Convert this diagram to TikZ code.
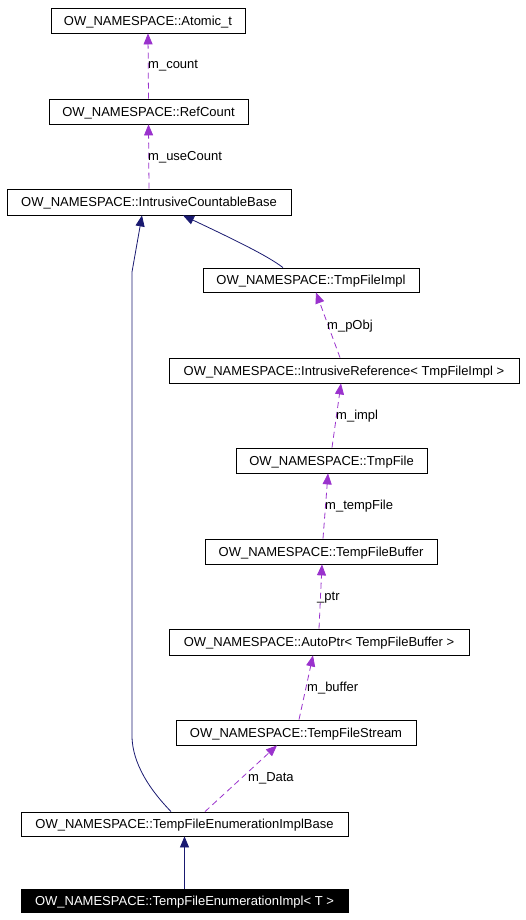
\documentclass[tikz,border=0pt]{standalone}
\usepackage{fontspec}
\setmainfont{Liberation Sans}
\usetikzlibrary{arrows.meta}
\definecolor{dep}{HTML}{9A32CD}
\definecolor{inh}{HTML}{191970}
\tikzset{
  cls/.style={draw=black, line width=0.8pt, rectangle, inner sep=0pt, anchor=center,
    text height=9.3pt, text depth=0pt,
    font=\fontsize{13}{15}\selectfont, text=black},
  clsmain/.style={cls, fill=black, text=white},
  lbl/.style={inner sep=0pt, anchor=west, text height=9.3pt, text depth=0pt,
    font=\fontsize{13}{15}\selectfont},
  depedge/.style={draw=dep, line width=0.8pt, dash pattern=on 6pt off 4pt,
    -{Triangle[length=11pt,width=9pt,fill=dep]}},
  inhedge/.style={draw=inh, line width=0.8pt,
    -{Triangle[length=11pt,width=9pt,fill=inh]}}
}
\begin{document}
\begin{tikzpicture}[x=1pt,y=-1pt]
\useasboundingbox (0,0) rectangle (525,920);

\node[cls, minimum width=194, minimum height=25] (atom) at (148,20.5) {OW\_NAMESPACE::Atomic\_t};
\node[cls, minimum width=199, minimum height=25] (ref) at (148.5,111.5) {OW\_NAMESPACE::RefCount};
\node[cls, minimum width=284, minimum height=26] (icb) at (149,202) {OW\_NAMESPACE::IntrusiveCountableBase};
\node[cls, minimum width=216, minimum height=24] (impl) at (311,280) {OW\_NAMESPACE::TmpFileImpl};
\node[cls, minimum width=350, minimum height=25] (iref) at (344,370.5) {OW\_NAMESPACE::IntrusiveReference< TmpFileImpl >};
\node[cls, minimum width=191, minimum height=25] (tmpf) at (331.5,460.5) {OW\_NAMESPACE::TmpFile};
\node[cls, minimum width=232, minimum height=25] (tfb) at (321,551.5) {OW\_NAMESPACE::TempFileBuffer};
\node[cls, minimum width=300, minimum height=26] (ap) at (319,642) {OW\_NAMESPACE::AutoPtr< TempFileBuffer >};
\node[cls, minimum width=240, minimum height=25] (tfs) at (296,732.5) {OW\_NAMESPACE::TempFileStream};
\node[cls, minimum width=327, minimum height=24] (eb) at (184.5,824) {OW\_NAMESPACE::TempFileEnumerationImplBase};
\node[clsmain, minimum width=327, minimum height=23] (enum) at (184.5,900.5) {OW\_NAMESPACE::TempFileEnumerationImpl< T >};

% dependency edges
\draw[depedge] (ref.north) -- (atom.south);
\draw[depedge] (icb.north) -- (ref.south);
\draw[depedge] ([xshift=-4pt]iref.north) -- ([xshift=5pt]impl.south);
\draw[depedge] ([xshift=0.5pt]tmpf.north) -- ([xshift=-3pt]iref.south);
\draw[depedge] ([xshift=2pt]tfb.north) -- ([xshift=-3.5pt]tmpf.south);
\draw[depedge] (ap.north) -- ([xshift=1pt]tfb.south);
\draw[depedge] ([xshift=3pt]tfs.north) -- ([xshift=-6pt]ap.south);
\draw[depedge] ([xshift=20.5pt]eb.north) -- ([xshift=-19pt]tfs.south);

% inheritance edges
\draw[inhedge] ([xshift=-28pt]impl.north) .. controls (268,256) and (235,240) .. ([xshift=34pt]icb.south);
\coordinate (bendlow) at (132,737);
\coordinate (bendhigh) at (132,272);
\draw[inhedge] ([xshift=-13.5pt]eb.north) .. controls (158,798) and (133,770) .. (bendlow) -- (bendhigh) -- ([xshift=-7pt]icb.south);
\draw[inhedge] (enum.north) -- (eb.south);

% labels
\node[lbl] (l1) at (148,64) {m\_count};
\node[lbl] (l2) at (148,155.5) {m\_useCount};
\node[lbl] (l3) at (327,325) {m\_pObj};
\node[lbl] (l4) at (336,415) {m\_impl};
\node[lbl] (l5) at (325,505) {m\_tempFile};
\node[lbl] (l6) at (317,596) {\_ptr};
\node[lbl] (l7) at (307,687) {m\_buffer};
\node[lbl] (l8) at (248,777) {m\_Data};
\end{tikzpicture}
\end{document}
